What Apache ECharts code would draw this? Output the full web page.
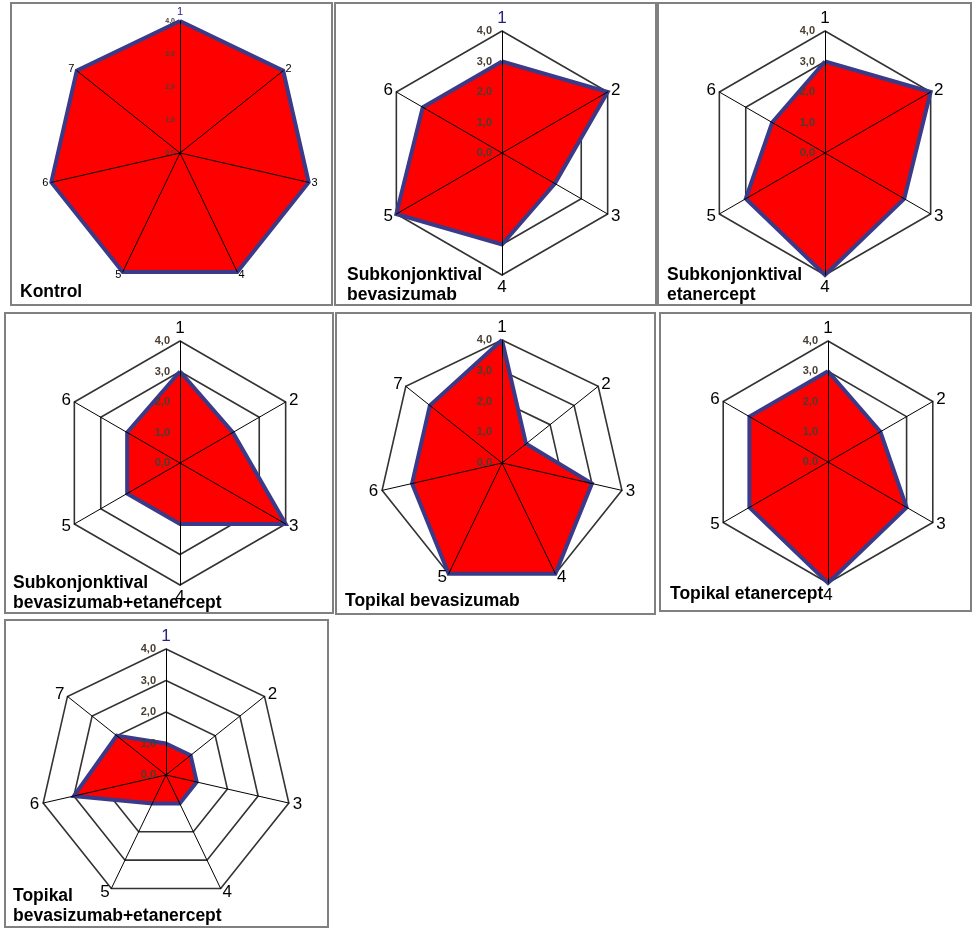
<!DOCTYPE html>
<html>
<head>
<meta charset="utf-8">
<script src="https://cdn.jsdelivr.net/npm/echarts@6/dist/echarts.min.js"></script>
<style>
html,body{margin:0;padding:0;background:#fff;}
#chart{width:972px;height:930px;}
</style>
</head>
<body>
<div id="chart"></div>
<script>
// ---- data ----
const axes6 = ['1', '2', '3', '4', '5', '6'];
const axes7 = ['1', '2', '3', '4', '5', '6', '7'];
const axisMax = 4;
const tickCount = 4; // 0,0 .. 4,0

const kontrol = [4, 4, 4, 4, 4, 4, 4];
const subkBevasizumab = [3, 4, 2, 3, 4, 3];
const subkEtanercept = [3, 4, 3, 4, 3, 2];
const subkBevaEtan = [3, 2, 4, 2, 2, 2];
const topBevasizumab = [4, 1, 3, 4, 4, 3, 3];
const topEtanercept = [3, 2, 3, 4, 3, 3];
const topBevaEtan = [1, 1, 1, 1, 1, 3, 2];

const titles = [
  'Kontrol',
  'Subkonjonktival\nbevasizumab',
  'Subkonjonktival\netanercept',
  'Subkonjonktival\nbevasizumab+etanercept',
  'Topikal bevasizumab',
  'Topikal etanercept',
  'Topikal\nbevasizumab+etanercept'
];

// ---- layout (positions / styles only) ----
const panels = [
  {axes: axes7, vals: kontrol,         frame: [11, 3, 321, 302],  c: [180, 153], r: 132, title: [20, 282],  small: true,  navy1: true},
  {axes: axes6, vals: subkBevasizumab, frame: [335, 3, 321, 302], c: [502, 153], r: 122, title: [347, 265], navy1: true},
  {axes: axes6, vals: subkEtanercept,  frame: [658, 3, 313, 302], c: [825, 153], r: 122, title: [667, 265]},
  {axes: axes6, vals: subkBevaEtan,    frame: [5, 313, 328, 300], c: [180, 463], r: 122, title: [13, 573]},
  {axes: axes7, vals: topBevasizumab,  frame: [336, 313, 319, 301], c: [502, 463], r: 123, title: [345, 591]},
  {axes: axes6, vals: topEtanercept,   frame: [660, 313, 311, 298], c: [828, 462], r: 121, title: [670, 584], dotZero: true},
  {axes: axes7, vals: topBevaEtan,     frame: [5, 620, 323, 307], c: [166, 775], r: 126, title: [13, 886], navy1: true}
];

const FONT = '"Liberation Sans", Arial, sans-serif';
const radars = [];
const series = [];
const graphics = [];
const titleOpts = [];

panels.forEach((p, i) => {
  const n = p.axes.length;
  // ECharts radar goes counter-clockwise; the reference is clockwise
  const order = [0];
  for (let k = n - 1; k >= 1; k--) order.push(k);
  const fmt = v => (v === 0 && p.dotZero) ? '0.0' : v.toFixed(1).replace('.', ',');

  const indBase = order.map(k => ({name: p.axes[k], max: axisMax, min: 0}));
  // ring radar (under the series)
  radars.push({
    center: p.c, radius: p.r, startAngle: 90, splitNumber: tickCount, shape: 'polygon',
    indicator: indBase.map(o => Object.assign({}, o)),
    axisName: {show: false},
    axisLine: {show: false},
    splitLine: {show: true, lineStyle: {color: '#333333', width: 1.6}},
    splitArea: {show: false},
    z: 0
  });
  // axis radar (over the series)
  const ind = indBase.map((o, j) => {
    const it = Object.assign({}, o);
    if (j === 0) {
      if (p.navy1) it.color = '#24247a';
      it.axisLabel = {
        show: true, formatter: fmt, color: '#4a3e32', fontFamily: FONT,
        fontWeight: 'bold', fontSize: p.small ? 7 : 11, margin: p.small ? 5 : 10
      };
    }
    return it;
  });
  radars.push({
    center: p.c, radius: p.r, startAngle: 90, splitNumber: tickCount, shape: 'polygon',
    indicator: ind,
    nameGap: p.small ? 3 : 4,
    axisName: {color: '#000', fontSize: p.small ? 11 : 17, fontFamily: FONT},
    axisLine: {show: true, lineStyle: {color: '#000', width: 1}},
    splitLine: {show: false},
    splitArea: {show: false},
    axisLabel: {show: false},
    z: 3
  });
  const vals = order.map(k => p.vals[k]);
  // filled area
  series.push({
    type: 'radar', radarIndex: i * 2, symbol: 'none', silent: true,
    lineStyle: {width: 0, opacity: 0},
    areaStyle: {color: '#ff0000', opacity: 1},
    data: [{value: vals}],
    z: 2
  });
  // outline on top of the fill
  series.push({
    type: 'radar', radarIndex: i * 2, symbol: 'none', silent: true,
    lineStyle: {color: '#3a3a88', width: 4, join: 'miter'},
    data: [{value: vals}],
    z: 2.5
  });
  graphics.push({
    type: 'rect', shape: {x: p.frame[0], y: p.frame[1], width: p.frame[2], height: p.frame[3]},
    style: {fill: 'none', stroke: '#808080', lineWidth: 2}, z: 10
  });
  titleOpts.push({
    text: titles[i], left: p.title[0], top: p.title[1], padding: 0,
    textStyle: {fontFamily: FONT, fontWeight: 'bold', fontSize: 17.5, lineHeight: 20, color: '#000'},
    z: 12
  });
});

const chart = echarts.init(document.getElementById('chart'), null, {renderer: 'canvas'});
chart.setOption({
  animation: false,
  backgroundColor: '#fff',
  title: titleOpts,
  radar: radars,
  series: series,
  graphic: graphics
});
</script>
</body>
</html>
